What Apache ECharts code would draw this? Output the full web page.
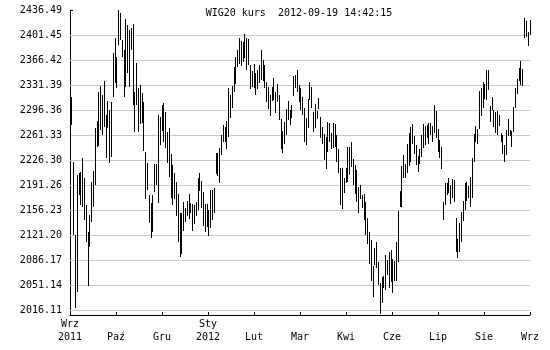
<!DOCTYPE html>
<html>
<head>
<meta charset="utf-8">
<script src="https://cdn.jsdelivr.net/npm/echarts@6/dist/echarts.min.js"></script>
<style>html,body{margin:0;padding:0;background:#fff}#c{width:550px;height:350px}</style>
</head>
<body>
<div id="c"></div>
<script>
const titleText = "WIG20 kurs  2012-09-19 14:42:15";
const xLabels = ["Wrz\n2011", "\nPaź", "\nGru", "Sty\n2012", "\nLut", "\nMar", "\nKwi", "\nCze", "\nLip", "\nSie", "\nWrz"];
const yTicks = [2016.11, 2051.14, 2086.17, 2121.20, 2156.23, 2191.26, 2226.30, 2261.33, 2296.36, 2331.39, 2366.42, 2401.45, 2436.49];
const yTickLabels = ["2016.11", "2051.14", "2086.17", "2121.20", "2156.23", "2191.26", "2226.30", "2261.33", "2296.36", "2331.39", "2366.42", "2401.45", "2436.49"];
const highs = [
2310.4, 2315.1, 2224.0, 2121.2, 2205.3, 2207.6, 2210.0, 2228.6, 2200.6, 2163.3,
2125.9, 2149.2, 2196.0, 2211.4, 2270.7, 2281.0, 2321.1, 2330.0, 2317.4, 2337.0,
2289.4, 2309.0, 2296.4, 2308.0, 2375.8, 2396.8, 2371.1, 2436.49, 2431.8, 2394.5,
2380.4, 2423.9, 2415.5, 2408.5, 2410.8, 2416.9, 2322.1, 2361.8, 2326.7, 2331.4,
2319.7, 2308.0, 2238.0,
2221.6, 2177.3, 2165.6, 2177.3, 2220.2, 2220.2, 2289.4, 2287.0, 2303.4, 2305.7,
2293.1, 2266.0, 2270.5, 2234.3, 2219.3, 2207.6, 2196.0, 2178.2, 2151.6, 2152.5,
2167.9, 2159.5, 2168.9, 2178.2, 2165.6, 2164.2, 2163.3, 2167.0, 2200.6, 2207.6,
2196.9, 2181.0, 2164.7, 2164.2, 2156.3, 2184.3, 2184.3, 2186.6, 2235.7, 2235.7,
2243.6, 2261.3, 2275.4,
2273.0, 2281.0, 2326.7, 2317.4, 2330.5, 2357.1, 2371.1, 2380.4, 2397.7, 2393.1,
2392.1, 2402.4, 2397.7, 2395.9, 2359.4, 2351.0, 2360.4, 2347.8, 2352.4, 2359.4,
2380.4, 2366.4, 2359.4, 2335.1, 2329.1, 2317.4, 2329.1, 2341.7, 2321.1, 2332.3,
2317.4, 2283.8, 2267.0, 2280.0, 2297.8, 2309.0, 2296.4, 2303.4, 2344.5, 2345.4,
2352.0, 2331.4, 2327.7, 2315.1,
2298.7, 2285.6, 2311.8, 2336.1, 2329.1, 2294.0, 2304.3, 2295.0, 2313.7, 2287.0,
2273.0, 2262.3, 2259.0, 2280.0, 2277.7, 2263.7, 2277.7, 2276.3, 2261.3, 2241.7,
2214.6, 2215.6, 2200.6, 2214.6, 2244.1, 2245.0, 2252.0, 2227.7, 2219.3, 2212.3,
2189.0, 2191.3, 2177.3, 2178.2, 2167.9, 2145.5, 2125.9, 2114.2, 2077.3, 2102.5,
2111.9, 2083.9, 2053.5,
2062.8, 2064.2, 2093.2, 2086.2, 2097.9, 2100.2, 2087.6, 2084.8, 2111.9, 2154.9,
2182.9, 2217.9, 2233.3, 2220.2, 2248.3, 2263.7, 2273.0, 2276.8, 2260.0, 2247.3,
2232.4, 2241.7, 2261.3, 2276.8, 2274.0, 2275.4, 2277.7, 2277.7, 2274.4, 2303.4,
2295.0, 2269.8, 2254.3, 2245.0, 2167.9, 2193.6, 2193.6, 2200.6, 2191.3, 2199.7,
2198.3, 2145.5, 2115.6,
2137.6, 2153.9, 2168.9, 2193.6, 2196.0, 2190.4, 2203.0, 2228.6, 2262.3, 2274.4,
2269.8, 2323.0, 2327.7, 2335.1, 2332.3, 2352.4, 2352.4, 2302.4, 2314.1, 2296.4,
2293.1, 2295.0, 2289.4, 2263.7, 2261.3, 2247.3, 2268.3, 2283.8, 2268.3, 2267.0,
2301.0, 2327.7, 2339.8, 2354.8, 2365.0, 2353.8, 2424.8, 2421.1, 2406.1, 2422.5
];
const lows = [
2231.0, 2275.4, 2121.2, 2018.5, 2041.8, 2177.3, 2163.3, 2160.9, 2142.2, 2111.9,
2049.8, 2104.9, 2139.9, 2160.9, 2191.3, 2245.0, 2246.4, 2268.3, 2261.3, 2273.0,
2228.6, 2271.6, 2221.6, 2231.0, 2315.1, 2333.7, 2326.7, 2387.5, 2394.5, 2371.1,
2315.1, 2328.1, 2347.8, 2329.1, 2380.4, 2303.4, 2265.1, 2303.4, 2265.1, 2276.3,
2277.7, 2239.4, 2171.2,
2184.3, 2137.6, 2116.6, 2125.9, 2181.9, 2191.3, 2165.6, 2247.3, 2267.4, 2252.0,
2242.7, 2222.6, 2203.0, 2173.5, 2163.3, 2171.7, 2148.3, 2111.9, 2090.9, 2094.1,
2126.8, 2138.9, 2148.3, 2143.6, 2151.6, 2126.8, 2136.2, 2148.3, 2156.3, 2182.9,
2159.5, 2134.3, 2125.9, 2132.9, 2119.8, 2131.5, 2141.8, 2151.6, 2206.2, 2204.4,
2193.6, 2233.3, 2252.0,
2251.1, 2241.7, 2259.0, 2285.6, 2298.7, 2322.1, 2332.8, 2357.1, 2360.8, 2358.5,
2364.1, 2368.8, 2352.4, 2359.4, 2325.3, 2329.1, 2327.7, 2317.4, 2325.8, 2333.7,
2338.4, 2337.0, 2326.7, 2308.0, 2297.3, 2288.4, 2309.0, 2310.4, 2291.7, 2308.0,
2282.4, 2241.7, 2235.7, 2248.3, 2261.3, 2282.4, 2275.4, 2284.7, 2316.5, 2327.7,
2322.1, 2307.1, 2296.4, 2289.4,
2252.0, 2247.3, 2270.7, 2310.4, 2299.6, 2266.0, 2271.6, 2283.8, 2297.8, 2256.7,
2248.3, 2226.3, 2213.2, 2238.0, 2252.0, 2241.7, 2243.6, 2245.0, 2224.0, 2207.6,
2163.3, 2157.7, 2179.6, 2193.6, 2196.0, 2205.3, 2217.0, 2191.3, 2178.2, 2167.9,
2151.6, 2171.7, 2158.6, 2142.2, 2121.2, 2108.2, 2080.1, 2057.2, 2034.8, 2079.2,
2074.5, 2051.2, 2010.0,
2025.5, 2046.5, 2044.2, 2065.2, 2047.4, 2055.8, 2039.5, 2056.8, 2056.8, 2082.9,
2160.9, 2160.9, 2200.6, 2201.6, 2207.6, 2218.4, 2224.0, 2248.3, 2234.7, 2219.3,
2209.0, 2220.2, 2231.0, 2242.7, 2247.3, 2256.7, 2248.3, 2261.3, 2252.0, 2263.7,
2257.6, 2238.0, 2228.6, 2213.2, 2142.2, 2163.3, 2177.3, 2179.6, 2164.2, 2172.6,
2167.9, 2097.9, 2089.5,
2097.9, 2110.9, 2140.8, 2156.3, 2168.9, 2173.5, 2160.9, 2172.6, 2223.1, 2252.0,
2248.3, 2269.8, 2288.4, 2299.6, 2311.8, 2310.4, 2324.4, 2280.0, 2296.4, 2273.0,
2263.7, 2261.3, 2274.4, 2251.1, 2234.3, 2224.0, 2233.3, 2260.4, 2260.4, 2245.0,
2266.0, 2299.6, 2318.3, 2337.0, 2331.4, 2330.5, 2396.8, 2399.1, 2386.5, 2401.5
];

const FONT = "'DejaVu Sans Mono', 'Liberation Mono', monospace";
const nBars = highs.length;
const xStep = (nBars - 1) / (xLabels.length - 1);
const bars = highs.map((h, i) => [i, lows[i], h]);

const chart = echarts.init(document.getElementById('c'), null, {renderer: 'canvas'});
chart.setOption({
  animation: false,
  backgroundColor: '#fff',
  title: {
    text: titleText, left: 294, top: 3, textAlign: 'center',
    textStyle: {fontFamily: FONT, fontSize: 10, fontWeight: 'normal', color: '#000'}
  },
  grid: {left: 70, right: 20, top: 10, bottom: 35, containLabel: false},
  xAxis: {
    type: 'value', min: 0, max: nBars - 1, interval: xStep,
    axisLine: {show: true, onZero: false, lineStyle: {color: '#000', width: 1}},
    axisTick: {show: true, inside: true, length: 3, lineStyle: {color: '#000'}},
    axisLabel: {
      margin: 3, lineHeight: 13, fontFamily: FONT, fontSize: 10, color: '#000',
      showMinLabel: true, showMaxLabel: true,
      formatter: v => xLabels[Math.round(v / xStep)] || ''
    },
    splitLine: {show: false}
  },
  yAxis: {
    type: 'value', min: 2009.1, max: 2436.49,
    axisLine: {show: true, lineStyle: {color: '#000', width: 1}},
    axisTick: {show: true, inside: true, length: 3, customValues: yTicks, lineStyle: {color: '#000'}},
    axisLabel: {
      customValues: yTicks, margin: 8, fontFamily: FONT, fontSize: 10, color: '#000',
      formatter: v => {
        let best = 0;
        yTicks.forEach((t, i) => { if (Math.abs(t - v) < Math.abs(yTicks[best] - v)) best = i; });
        return yTickLabels[best];
      }
    },
    splitLine: {show: false}
  },
  series: [
    {
      type: 'line', data: [], z: 1, silent: true,
      markLine: {
        silent: true, symbol: 'none', label: {show: false},
        lineStyle: {color: '#c8c8c8', type: 'solid', width: 1},
        data: yTicks.slice(0, yTicks.length - 1).map(v => ({yAxis: v}))
      }
    },
    {
      type: 'custom', z: 5, silent: true,
      encode: {x: 0, y: [1, 2]},
      data: bars,
      renderItem: function (params, api) {
        const top = api.coord([api.value(0), api.value(2)]);
        const bot = api.coord([api.value(0), api.value(1)]);
        const x = Math.floor(top[0]);
        const y0 = Math.round(top[1]);
        const y1 = Math.round(bot[1]);
        return {
          type: 'rect',
          shape: {x: x, y: y0, width: 1, height: Math.max(1, y1 - y0)},
          style: {fill: '#000'}
        };
      }
    }
  ]
});
</script>
</body>
</html>
